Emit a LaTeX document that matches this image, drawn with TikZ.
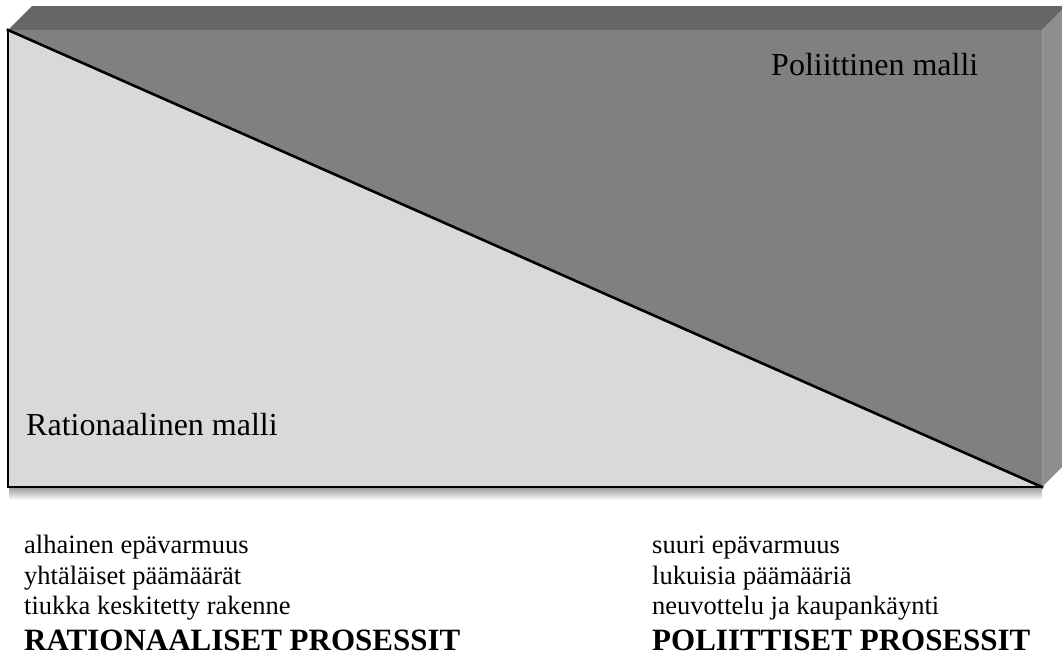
\documentclass[tikz,border=0pt]{standalone}
\usepackage{fontspec}
\setmainfont{Liberation Serif}
\usetikzlibrary{positioning, calc}

\definecolor{lightface}{HTML}{D9D9D9}
\definecolor{darkface}{HTML}{808080}
\definecolor{topface}{HTML}{666666}
\definecolor{sideface}{HTML}{8E8E8E}

\begin{document}
\begin{tikzpicture}[
    x=1pt, y=-1pt,
    % --- ESTILOS ---
    edge/.style={draw=black, line width=2.6pt, line cap=rect},
    modellabel/.style={
        inner sep=0pt, anchor=base west, font=\fontsize{32}{38}\selectfont
    },
    itemlabel/.style={
        inner sep=0pt, anchor=base west, font=\fontsize{26.5}{30}\selectfont
    },
    headlabel/.style={
        inner sep=0pt, anchor=base west, font=\fontsize{31}{36}\selectfont\bfseries
    }
    ]

    \useasboundingbox (0,0) rectangle (1062,657);

    % --- 1. Las esquinas de la caja ---
    \coordinate (ftl) at (8,30);
    \coordinate (ftr) at (1042,30);
    \coordinate (fbl) at (8,487);
    \coordinate (fbr) at (1042,487);
    \coordinate (btl) at (32,6);
    \coordinate (btr) at (1066,6);
    \coordinate (bbr) at (1066,463);

    % --- 2. Sombra bajo la caja ---
    \foreach \d [evaluate=\d as \o using 0.4*(1-\d/13)] in {1,...,12} {
        \draw [black, opacity=\o, line width=1pt] ($(fbl)+(1,\d)$) -- ($(fbr)+(0,\d)$);
    }

    % --- 3. Caras de la caja ---
    \fill [topface] (ftl) -- (btl) -- (btr) -- (ftr) -- cycle;
    \fill [sideface] (ftr) -- (btr) -- (bbr) -- (fbr) -- cycle;
    \draw [white, opacity=0.15, line width=1.5pt] (ftr) -- (fbr);
    \fill [darkface] (ftl) -- (ftr) -- (fbr) -- cycle;
    \fill [lightface] (ftl) -- (fbr) -- (fbl) -- cycle;

    % --- 4. Bordes ---
    \draw [edge] (ftl) -- (fbr);
    \draw [edge] (ftl) -- (fbl) -- (fbr);

    % --- 5. Textos de los modelos ---
    \node [modellabel] (political) at (771,75) {Poliittinen malli};
    \node [modellabel] (rational) at (26,435) {Rationaalinen malli};

    % --- 6. Procesos racionales ---
    \node [itemlabel] (lowunc) at (24,553) {alhainen epävarmuus};
    \node [itemlabel] (samegoals) at (24,584) {yhtäläiset päämäärät};
    \node [itemlabel] (tight) at (24,614) {tiukka keskitetty rakenne};
    \node [headlabel] (ratproc) at (24,650) {RATIONAALISET PROSESSIT};

    % --- 7. Procesos políticos ---
    \node [itemlabel] (highunc) at (652,553) {suuri epävarmuus};
    \node [itemlabel] (manygoals) at (652,584) {lukuisia päämääriä};
    \node [itemlabel] (bargain) at (652,614) {neuvottelu ja kaupankäynti};
    \node [headlabel] (polproc) at (652,650) {POLIITTISET PROSESSIT};

\end{tikzpicture}
\end{document}
